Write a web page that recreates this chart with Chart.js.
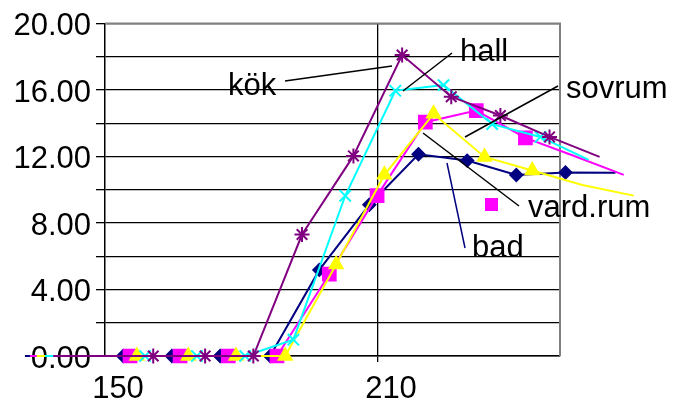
<!DOCTYPE html>
<html>
<head>
<meta charset="utf-8">
<script src="https://cdn.jsdelivr.net/npm/chart.js@4/dist/chart.umd.min.js"></script>
<style>
  html, body { margin: 0; padding: 0; background: #fff; }
  #chart { display: block; }
</style>
</head>
<body>
<canvas id="chart" width="673" height="403"></canvas>
<script>
const xTicks = [150, 210];
const xMin = 150;
const xMax = 250;

// bad
const badX = [132.4, 143.2, 154.0, 164.7, 175.3, 186.3, 197.1, 208.1, 218.9, 229.6, 240.4, 251.2, 262.2];
const badY = [0, 0, 0, 0, 0, 0, 5.18, 9.1, 12.14, 11.76, 10.89, 11.04, 11.03];
// vard.rum
const vardX = [133.5, 144.5, 155.5, 166.5, 177.1, 187.8, 199.3, 209.8, 220.4, 231.6, 242.4, 252.7, 264.0];
const vardY = [0, 0, 0, 0, 0, 0, 4.92, 9.65, 14.07, 14.77, 13.12, 12.08, 10.9];
// sovrum
const sovX = [135.0, 146.0, 157.0, 168.3, 178.8, 189.6, 200.8, 211.4, 222.2, 233.4, 243.9, 254.9, 266.2];
const sovY = [0, 0, 0, 0, 0, 0, 5.5, 10.9, 14.57, 11.98, 11.16, 10.29, 9.65];
// hall
const hallX = [136.8, 147.8, 158.8, 170.2, 180.8, 191.4, 202.8, 213.8, 224.4, 235.1, 245.7, 256.3];
const hallY = [0, 0, 0, 0, 0, 0.98, 9.64, 15.96, 16.3, 13.95, 13.18, 11.8];
// kök
const kokX = [138.6, 149.6, 160.6, 172.0, 182.6, 193.3, 204.6, 215.3, 226.1, 236.9, 247.7, 258.7];
const kokY = [0, 0, 0, 0, 0, 7.31, 12.04, 18.11, 15.6, 14.47, 13.18, 11.98];

const FONT = "'Liberation Sans', Arial, sans-serif";

const series = [
  { label: 'kök', xs: kokX, ys: kokY, color: '#800080', style: 'star', r: 7.5, lastMarker: false },
  { label: 'hall', xs: hallX, ys: hallY, color: '#00FFFF', style: 'crossRot', r: 8, lastMarker: true },
  { label: 'sovrum', xs: sovX, ys: sovY, color: '#FFFF00', style: 'triangle', r: 7.5, lastMarker: false },
  { label: 'vard.rum', xs: vardX, ys: vardY, color: '#FF00FF', style: 'rect', r: 9, lastMarker: false },
  { label: 'bad', xs: badX, ys: badY, color: '#000080', style: 'rectRot', r: 6, lastMarker: false }
];

const datasets = series.map(s => ({
  label: s.label,
  data: s.xs.map((x, i) => ({ x, y: s.ys[i] })),
  borderColor: s.color,
  backgroundColor: s.color,
  borderWidth: 2,
  pointStyle: s.style,
  pointBackgroundColor: s.color,
  pointBorderColor: s.color,
  pointBorderWidth: 2,
  pointRadius: ctx => {
    const p = ctx.raw;
    if (!p || p.x < xMin) return 0;
    if (ctx.dataIndex === s.xs.length - 1 && !s.lastMarker) return 0;
    return s.r;
  },
  tension: 0,
  clip: false
}));

// text labels with leader lines (pixel positions)
const notes = [
  { text: 'kök', x: 228, y: 95, from: [285, 81], to: [392, 66], line: '#000' },
  { text: 'hall', x: 460, y: 61, from: [452, 53], to: [403, 91], line: '#000' },
  { text: 'sovrum', x: 566, y: 98, from: [558, 86], to: [465, 137], line: '#000' },
  { text: 'vard.rum', x: 528, y: 217, from: [519, 206], to: [423, 133], line: '#000' },
  { text: 'bad', x: 472, y: 257, from: [465, 248], to: [447, 163], line: '#000080' }
];

const framePlugin = {
  id: 'frame',
  beforeDatasetsDraw(chart) {
    const { ctx, chartArea: a } = chart;
    ctx.save();
    ctx.strokeStyle = '#808080';
    ctx.lineWidth = 2;
    ctx.beginPath();
    ctx.moveTo(a.left, a.top);
    ctx.lineTo(a.right, a.top);
    ctx.lineTo(a.right, a.bottom);
    ctx.stroke();
    ctx.restore();
  },
  afterDatasetsDraw(chart) {
    const { ctx } = chart;
    ctx.save();
    notes.forEach(n => {
      ctx.strokeStyle = n.line;
      ctx.lineWidth = 1.5;
      ctx.beginPath();
      ctx.moveTo(n.from[0], n.from[1]);
      ctx.lineTo(n.to[0], n.to[1]);
      ctx.stroke();
      ctx.fillStyle = '#000';
      ctx.font = '31px ' + FONT;
      ctx.textBaseline = 'alphabetic';
      ctx.textAlign = 'left';
      ctx.fillText(n.text, n.x, n.y);
    });
    // legend key for vard.rum
    ctx.fillStyle = '#FF00FF';
    ctx.fillRect(485, 198, 13, 13);
    ctx.restore();
  }
};

new Chart(document.getElementById('chart'), {
  type: 'line',
  data: { datasets },
  options: {
    responsive: false,
    animation: false,
    events: [],
    devicePixelRatio: 1,
    layout: { padding: { left: 0, top: 21, right: 113, bottom: 0 } },
    plugins: { legend: { display: false }, tooltip: { enabled: false } },
    scales: {
      x: {
        type: 'linear',
        bounds: 'data',
        afterDataLimits: s => { s.min = xMin; s.max = xMax; },
        afterBuildTicks: s => { s.ticks = xTicks.map(v => ({ value: v })); },
        afterFit: s => { s.height = 47; },
        grid: {
          color: c => (c.tick && c.tick.value === 210 ? '#000' : 'rgba(0,0,0,0)'),
          tickColor: c => (c.tick && c.tick.value === 210 ? '#000' : 'rgba(0,0,0,0)'),
          tickLength: 6,
          lineWidth: 1.3
        },
        border: { color: '#000', width: 1.5 },
        ticks: {
          autoSkip: false,
          maxRotation: 0,
          labelOffset: 13,
          padding: 9,
          color: '#000',
          font: { family: FONT, size: 31 },
          callback: v => String(v)
        }
      },
      y: {
        min: 0,
        max: 20,
        afterFit: s => { s.width = 105; },
        grid: { color: '#000', tickColor: '#000', tickLength: 9, lineWidth: 1.3 },
        border: { color: '#000', width: 1.5 },
        ticks: {
          stepSize: 2,
          autoSkip: false,
          labelOffset: 3,
          padding: 5,
          color: '#000',
          font: { family: FONT, size: 31 },
          callback: v => (v % 4 === 0 ? v.toFixed(2) : '')
        }
      }
    }
  },
  plugins: [framePlugin]
});
</script>
</body>
</html>
